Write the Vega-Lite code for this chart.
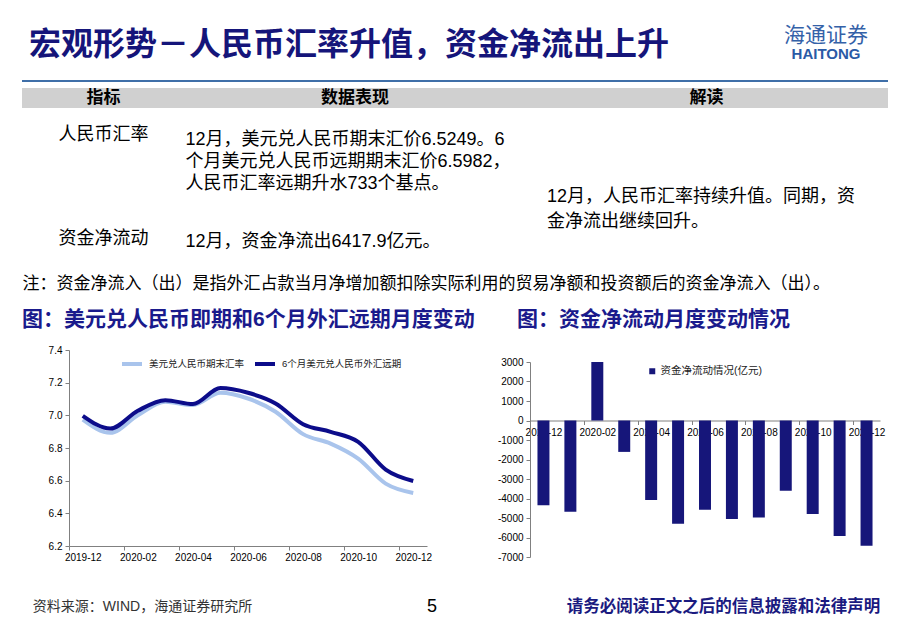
{
  "$schema": "https://vega.github.io/schema/vega-lite/v6.json",
  "background": "white",
  "padding": {"left": 22, "top": 25, "right": 0, "bottom": 0},
  "autosize": {"type": "pad"},
  "config": {
    "font": "Liberation Sans, Noto Sans CJK SC",
    "view": {"stroke": null},
    "axis": {"domainColor": "#808080", "tickColor": "#808080", "labelColor": "#000000", "grid": false, "title": null, "labelFontSize": 10, "tickSize": 4}
  },
  "title": {
    "text": "海通证券",
    "subtitle": "HAITONG",
    "anchor": "middle",
    "frame": "bounds",
    "dx": 371,
    "offset": -33,
    "fontSize": 21,
    "fontWeight": "normal",
    "color": "#3461a8",
    "subtitleFontSize": 15,
    "subtitleFontWeight": "bold",
    "subtitleColor": "#2a5aa6",
    "subtitlePadding": 1
  },
  "datasets": {
    "fx": [
      {"month": "2019-12", "series": "美元兑人民币期末汇率", "value": 6.974},
      {"month": "2020-01", "series": "美元兑人民币期末汇率", "value": 6.893},
      {"month": "2020-02", "series": "美元兑人民币期末汇率", "value": 7.001},
      {"month": "2020-03", "series": "美元兑人民币期末汇率", "value": 7.083},
      {"month": "2020-04", "series": "美元兑人民币期末汇率", "value": 7.063},
      {"month": "2020-05", "series": "美元兑人民币期末汇率", "value": 7.138},
      {"month": "2020-06", "series": "美元兑人民币期末汇率", "value": 7.103},
      {"month": "2020-07", "series": "美元兑人民币期末汇率", "value": 7.022},
      {"month": "2020-08", "series": "美元兑人民币期末汇率", "value": 6.885},
      {"month": "2020-09", "series": "美元兑人民币期末汇率", "value": 6.827},
      {"month": "2020-10", "series": "美元兑人民币期末汇率", "value": 6.735},
      {"month": "2020-11", "series": "美元兑人民币期末汇率", "value": 6.582},
      {"month": "2020-12", "series": "美元兑人民币期末汇率", "value": 6.5249},
      {"month": "2019-12", "series": "6个月美元兑人民币外汇远期", "value": 6.997},
      {"month": "2020-01", "series": "6个月美元兑人民币外汇远期", "value": 6.919},
      {"month": "2020-02", "series": "6个月美元兑人民币外汇远期", "value": 7.028},
      {"month": "2020-03", "series": "6个月美元兑人民币外汇远期", "value": 7.093},
      {"month": "2020-04", "series": "6个月美元兑人民币外汇远期", "value": 7.069},
      {"month": "2020-05", "series": "6个月美元兑人民币外汇远期", "value": 7.167},
      {"month": "2020-06", "series": "6个月美元兑人民币外汇远期", "value": 7.138},
      {"month": "2020-07", "series": "6个月美元兑人民币外汇远期", "value": 7.073},
      {"month": "2020-08", "series": "6个月美元兑人民币外汇远期", "value": 6.946},
      {"month": "2020-09", "series": "6个月美元兑人民币外汇远期", "value": 6.899},
      {"month": "2020-10", "series": "6个月美元兑人民币外汇远期", "value": 6.838},
      {"month": "2020-11", "series": "6个月美元兑人民币外汇远期", "value": 6.668},
      {"month": "2020-12", "series": "6个月美元兑人民币外汇远期", "value": 6.5982}
    ],
    "flow": [
      {"month": "2019-12", "item": "资金净流动情况(亿元)", "value": -4350},
      {"month": "2020-01", "item": "资金净流动情况(亿元)", "value": -4680},
      {"month": "2020-02", "item": "资金净流动情况(亿元)", "value": 3000},
      {"month": "2020-03", "item": "资金净流动情况(亿元)", "value": -1610},
      {"month": "2020-04", "item": "资金净流动情况(亿元)", "value": -4080},
      {"month": "2020-05", "item": "资金净流动情况(亿元)", "value": -5300},
      {"month": "2020-06", "item": "资金净流动情况(亿元)", "value": -4580},
      {"month": "2020-07", "item": "资金净流动情况(亿元)", "value": -5050},
      {"month": "2020-08", "item": "资金净流动情况(亿元)", "value": -4980},
      {"month": "2020-09", "item": "资金净流动情况(亿元)", "value": -3600},
      {"month": "2020-10", "item": "资金净流动情况(亿元)", "value": -4800},
      {"month": "2020-11", "item": "资金净流动情况(亿元)", "value": -5920},
      {"month": "2020-12", "item": "资金净流动情况(亿元)", "value": -6417.9}
    ]
  },
  "spacing": 0,
  "bounds": "full",
  "resolve": {"scale": {"x": "independent", "y": "independent", "color": "independent"}},
  "vconcat": [
    {
      "width": 866,
      "height": 2,
      "view": {"fill": "#3f6fa8", "stroke": null},
      "title": {
        "text": "宏观形势－人民币汇率升值，资金净流出上升",
        "anchor": "start",
        "frame": "group",
        "fontSize": 32,
        "fontWeight": "bold",
        "color": "#15157a",
        "baseline": "alphabetic",
        "offset": -7,
        "dx": 7
      },
      "data": {"values": []},
      "mark": "point"
    },
    {"width": 1, "height": 6, "data": {"values": []}, "mark": "point"},
    {
      "hconcat": [
        {
          "width": 163, "height": 20,
          "view": {"fill": "#d0d0d0", "stroke": null},
          "data": {"values": [{"h": "指标"}]},
          "mark": {"type": "text", "fontSize": 17, "fontWeight": "bold", "color": "#000000"},
          "encoding": {"text": {"field": "h"}}
        },
        {
          "width": 340, "height": 20,
          "view": {"fill": "#d0d0d0", "stroke": null},
          "data": {"values": [{"h": "数据表现"}]},
          "mark": {"type": "text", "fontSize": 17, "fontWeight": "bold", "color": "#000000"},
          "encoding": {"text": {"field": "h"}}
        },
        {
          "width": 363, "height": 20,
          "view": {"fill": "#d0d0d0", "stroke": null},
          "data": {"values": [{"h": "解读"}]},
          "mark": {"type": "text", "fontSize": 17, "fontWeight": "bold", "color": "#000000"},
          "encoding": {"text": {"field": "h"}}
        }
      ],
      "spacing": 0,
      "bounds": "flush"
    },
    {
      "hconcat": [
        {
          "width": 163, "height": 160,
          "data": {"values": [{"row": "r1", "t": "人民币汇率"}, {"row": "r2", "t": "资金净流动"}]},
          "mark": {"type": "text", "fontSize": 18, "baseline": "top", "color": "#000000"},
          "encoding": {
            "y": {"field": "row", "type": "nominal", "bandPosition": 0, "scale": {"type": "band", "domain": ["r1", "r2"], "paddingInner": 0.808, "paddingOuter": 0.173}, "axis": null},
            "text": {"field": "t"}
          }
        },
        {
          "width": 1, "height": 160,
          "data": {"values": [
            {"row": "r1", "t": "12月，美元兑人民币期末汇价6.5249。6\n个月美元兑人民币远期期末汇价6.5982，\n人民币汇率远期升水733个基点。"},
            {"row": "r2", "t": "12月，资金净流出6417.9亿元。"}
          ]},
          "mark": {"type": "text", "fontSize": 18, "baseline": "top", "align": "left", "lineBreak": "\n", "lineHeight": 22, "color": "#000000"},
          "encoding": {
            "y": {"field": "row", "type": "nominal", "bandPosition": 0, "scale": {"type": "band", "domain": ["r1", "r2"], "paddingInner": 0.882, "paddingOuter": 0.2255}, "axis": null},
            "text": {"field": "t"}
          }
        },
        {"width": 339, "height": 1, "data": {"values": []}, "mark": "point"},
        {
          "width": 44, "height": 160,
          "data": {"values": [{"t": "12月，人民币汇率持续升值。同期，资\n金净流出继续回升。"}]},
          "mark": {"type": "text", "fontSize": 18, "baseline": "top", "align": "left", "lineBreak": "\n", "lineHeight": 25, "color": "#000000"},
          "encoding": {"text": {"field": "t"}}
        }
      ],
      "spacing": 0,
      "bounds": "flush"
    },
    {
      "width": 1, "height": 32,
      "data": {"values": [{"t": "注：资金净流入（出）是指外汇占款当月净增加额扣除实际利用的贸易净额和投资额后的资金净流入（出）。"}]},
      "mark": {"type": "text", "fontSize": 17, "align": "left", "color": "#000000"},
      "encoding": {"text": {"field": "t"}}
    },
    {"width": 1, "height": 9, "data": {"values": []}, "mark": "point"},
    {
      "hconcat": [
        {"width": 47, "height": 1, "data": {"values": []}, "mark": "point"},
        {
          "width": 358, "height": 196,
          "title": {
            "text": "图：美元兑人民币即期和6个月外汇远期月度变动",
            "anchor": "start", "frame": "group", "dx": -47,
            "fontSize": 21, "fontWeight": "bold", "color": "#1a1a8c",
            "baseline": "alphabetic", "offset": -2
          },
          "data": {"name": "fx"},
          "mark": {"type": "line", "interpolate": "monotone", "strokeWidth": 4},
          "encoding": {
            "x": {
              "field": "month", "type": "ordinal", "bandPosition": 0.5,
              "scale": {"type": "band", "paddingInner": 0, "paddingOuter": 0},
              "axis": {"values": ["2019-12", "2020-02", "2020-04", "2020-06", "2020-08", "2020-10", "2020-12"], "labelAngle": 0, "tickOffset": -13.77, "labelOffset": 13.77, "labelPadding": 2}
            },
            "y": {
              "field": "value", "type": "quantitative",
              "scale": {"domain": [6.2, 7.4], "nice": false, "zero": false},
              "axis": {"values": [6.2, 6.4, 6.6, 6.8, 7.0, 7.2, 7.4], "format": ".1f", "labelPadding": 3}
            },
            "color": {
              "field": "series", "type": "nominal",
              "scale": {"domain": ["美元兑人民币期末汇率", "6个月美元兑人民币外汇远期"], "range": ["#a9c4ec", "#0c0c8a"]},
              "legend": {"orient": "none", "legendX": 51, "legendY": 2, "direction": "horizontal", "title": null, "symbolType": "stroke", "symbolStrokeWidth": 4, "symbolSize": 400, "labelFontSize": 9.5, "labelColor": "#222222", "columnPadding": 2, "labelOffset": 5}
            }
          }
        },
        {"width": 103, "height": 1, "data": {"values": []}, "mark": "point"},
        {
          "vconcat": [
            {"width": 1, "height": 12, "data": {"values": []}, "mark": "point"},
            {
              "width": 350, "height": 195,
              "title": {
                "text": "图：资金净流动月度变动情况",
                "anchor": "start", "frame": "group", "dx": -13,
                "fontSize": 21, "fontWeight": "bold", "color": "#1a1a8c",
                "baseline": "alphabetic", "offset": 10
              },
              "data": {"name": "flow"},
              "mark": {"type": "bar", "color": "#16167a"},
              "encoding": {
                "x": {
                  "field": "month", "type": "ordinal",
                  "scale": {"type": "band", "paddingInner": 0.555, "paddingOuter": 0.2775},
                  "axis": {"values": ["2019-12", "2020-02", "2020-04", "2020-06", "2020-08", "2020-10", "2020-12"], "labelAngle": 0, "tickOffset": -13.46, "labelOffset": 13.46, "offset": -136.5, "zindex": 0, "labelPadding": 3}
                },
                "y": {
                  "field": "value", "type": "quantitative",
                  "scale": {"domain": [-7000, 3000], "nice": false},
                  "axis": {"values": [-7000, -6000, -5000, -4000, -3000, -2000, -1000, 0, 1000, 2000, 3000], "labelExpr": "toString(datum.value)", "labelPadding": 3}
                },
                "color": {
                  "field": "item", "type": "nominal",
                  "scale": {"range": ["#16167a"]},
                  "legend": {"orient": "none", "legendX": 117, "legendY": 16, "title": null, "symbolType": "square", "symbolSize": 36, "labelFontSize": 10.5, "labelColor": "#222222", "labelOffset": 3}
                }
              }
            }
          ],
          "spacing": 0,
          "bounds": "flush"
        }
      ],
      "spacing": 0,
      "bounds": "flush",
      "resolve": {"scale": {"x": "independent", "y": "independent", "color": "independent"}}
    },
    {"width": 1, "height": 28, "data": {"values": []}, "mark": "point"},
    {
      "hconcat": [
        {
          "width": 241, "height": 34,
          "data": {"values": [{"t": "资料来源：WIND，海通证券研究所"}]},
          "mark": {"type": "text", "fontSize": 14, "color": "#333333"},
          "encoding": {"text": {"field": "t"}}
        },
        {
          "width": 338, "height": 34,
          "data": {"values": [{"t": "5"}]},
          "mark": {"type": "text", "fontSize": 18, "color": "#000000"},
          "encoding": {"text": {"field": "t"}}
        },
        {
          "width": 245, "height": 34,
          "data": {"values": [{"t": "请务必阅读正文之后的信息披露和法律声明"}]},
          "mark": {"type": "text", "fontSize": 16.5, "fontWeight": "bold", "color": "#1a1a80"},
          "encoding": {"text": {"field": "t"}}
        }
      ],
      "spacing": 0,
      "bounds": "flush"
    }
  ]
}
